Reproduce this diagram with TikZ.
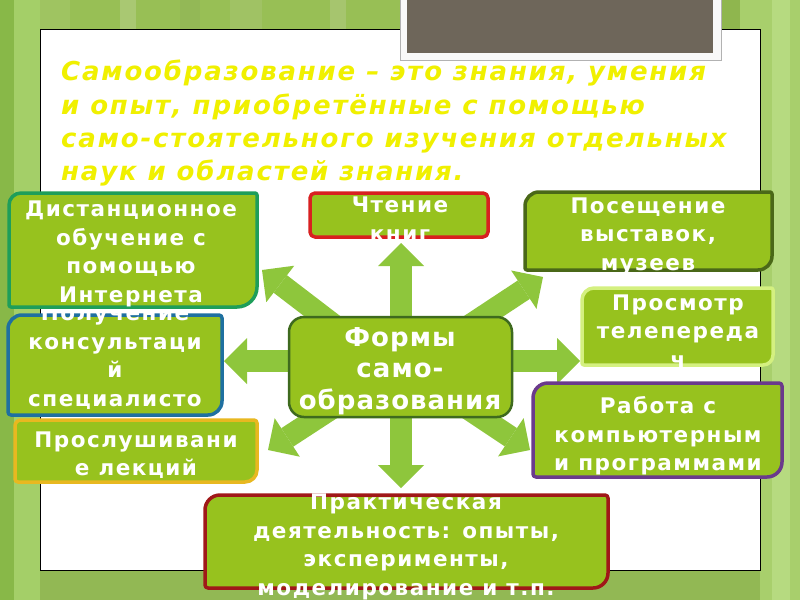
\documentclass[tikz,border=0pt]{standalone}
\usepackage{fontspec}
\setmainfont{DejaVu Sans}
\newfontfamily\titlefont{DejaVu Sans}[LetterSpace=7]
\newfontfamily\boxfont{DejaVu Sans}[LetterSpace=7]
\newfontfamily\centerfont{DejaVu Sans}[LetterSpace=4]
\usetikzlibrary{arrows.meta}
\definecolor{bgbase}{HTML}{98BF55}
\definecolor{boxgreen}{HTML}{97C21E}
\definecolor{arrowgreen}{HTML}{8EC63C}
\definecolor{titleyellow}{HTML}{F0F000}
\definecolor{greybox}{HTML}{6E665A}
\definecolor{cTeal}{HTML}{1E9E5A}
\definecolor{cBlue}{HTML}{1F70A0}
\definecolor{cGold}{HTML}{E8B820}
\definecolor{cRed}{HTML}{D82020}
\definecolor{cOlive}{HTML}{4A6818}
\definecolor{cLight}{HTML}{D4F080}
\definecolor{cPurple}{HTML}{6A3A8C}
\definecolor{cDarkRed}{HTML}{A01818}
\definecolor{cCenter}{HTML}{3E6A1E}
% #1 x1, #2 y1, #3 x2, #4 y2, #5 colour, #6 r top-left, #7 r bottom-right, #8 r other
\newcommand\rbox[8]{%
  \draw[boxshape, draw=#5] (#1,#2+#6) arc[start angle=180,end angle=270,radius=#6]
    -- (#3-#8,#2) arc[start angle=270,end angle=360,radius=#8]
    -- (#3,#4-#7) arc[start angle=0,end angle=90,radius=#7]
    -- (#1+#8,#4) arc[start angle=90,end angle=180,radius=#8] -- cycle;}
\begin{document}
\begin{tikzpicture}[x=1pt,y=-1pt,
  boxshape/.style={fill=boxgreen, line width=3.5pt, line join=round},
  boxtext/.style={text=white, font=\boxfont\bfseries\fontsize{21.5}{28.5}\selectfont, align=center, inner sep=0pt},
  bigarrow/.style={draw=arrowgreen, line width=22pt, line cap=butt,
     -{Triangle[length=23pt,width=46pt,line width=0pt]}}]
\useasboundingbox (0,0) rectangle (800,600);
% background
\fill[bgbase] (0,0) rectangle (800,600);
\fill[color={rgb,255:red,136;green,184;blue,72}] (0,0) rectangle (14,600);
\fill[color={rgb,255:red,164;green,207;blue,104}] (14,0) rectangle (40,600);
\fill[color={rgb,255:red,159;green,196;blue,97}] (40,0) rectangle (70,30);
\fill[color={rgb,255:red,169;green,200;blue,114}] (120,0) rectangle (136,30);
\fill[color={rgb,255:red,147;green,184;blue,86}] (180,0) rectangle (200,30);
\fill[color={rgb,255:red,160;green,194;blue,100}] (230,0) rectangle (262,30);
\fill[color={rgb,255:red,166;green,197;blue,110}] (330,0) rectangle (346,30);
\fill[color={rgb,255:red,143;green,182;blue,78}] (722,0) rectangle (740,600);
\fill[color={rgb,255:red,168;green,207;blue,108}] (740,0) rectangle (800,600);
\fill[color={rgb,255:red,182;green,218;blue,128}] (772,0) rectangle (790,600);
\fill[color={rgb,255:red,146;green,184;blue,84}] (40,570) rectangle (760,600);
% white panel
\draw[fill=white, draw=black, line width=0.8pt] (40,29) rectangle (760,570);
% grey picture frame
\draw[fill=white!95!gray, draw=gray!60, line width=0.6pt] (400,-2) rectangle (721,60);
\fill[greybox] (407,-2) rectangle (713,53);
% title
\node[anchor=north west, align=left, inner sep=0pt, text=titleyellow,
      font=\titlefont\bfseries\itshape\fontsize{26}{33.3}\selectfont] (title) at (61,60)
 {Самообразование – это знания, умения\\
  и опыт, приобретённые с помощью\\
  само-стоятельного изучения отдельных\\
  наук и областей знания.};
% arrows
\coordinate (sUL) at (360,345);
\coordinate (sUR) at (440,345);
\coordinate (sDL) at (360,390);
\coordinate (sDR) at (440,390);
\coordinate (sV) at (401,366);
\coordinate (sH) at (401,361);
\coordinate (eUp) at (401,243);
\coordinate (eDown) at (401,488);
\coordinate (eLeft) at (224,361);
\coordinate (eRight) at (580,361);
\coordinate (eUL) at (262,270);
\coordinate (eUR) at (543,277);
\coordinate (eDL) at (268,450);
\coordinate (eDR) at (530,450);
\draw[bigarrow] (sUL) -- (eUL);
\draw[bigarrow] (sUR) -- (eUR);
\draw[bigarrow] (sDL) -- (eDL);
\draw[bigarrow] (sDR) -- (eDR);
\draw[bigarrow] (sV) -- (eUp);
\draw[bigarrow] (sV) -- (eDown);
\draw[bigarrow] (sH) -- (eLeft);
\draw[bigarrow] (sH) -- (eRight);
% centre
\draw[fill=boxgreen, draw=cCenter, line width=2.5pt, rounded corners=15pt] (289,317) rectangle (512,417);
\node[boxtext, font=\centerfont\bfseries\fontsize{26}{31.5}\selectfont] (t0) at (400,371) {Формы\\само-\\образования};
% box 6 (under boxes 1 and 7)
\rbox{8}{315}{222}{415}{cBlue}{14}{14}{3}
\node[boxtext] (t6) at (115,370) {Получение\\консультаци\\й\\специалисто\\в};
% box 1
\rbox{9}{193}{257}{307}{cTeal}{12}{20}{2}
\node[boxtext] (t1) at (131,254) {Дистанционное\\обучение с\\помощью\\Интернета};
% box 7
\rbox{15}{420}{257}{482}{cGold}{6}{12}{3}
\node[boxtext] (t7) at (136,455) {Прослушивани\\е лекций};
% box 2
\rbox{310}{193}{488}{237}{cRed}{5}{5}{5}
\node[boxtext] (t2) at (400,219) {Чтение\\книг};
% box 3
\rbox{525}{192}{772}{270}{cOlive}{14}{14}{2}
\node[boxtext] (t3) at (648,236) {Посещение\\выставок,\\музеев};
% box 4
\rbox{582}{288}{773}{365}{cLight}{12}{10}{2}
\node[boxtext] (t4) at (678,331) {Просмотр\\телепереда\\ч};
% box 5
\rbox{533}{383}{782}{477}{cPurple}{15}{15}{3}
\node[boxtext] (t5) at (658,436) {Работа с\\компьютерным\\и программами};
% box 8
\rbox{205}{495}{608}{588}{cDarkRed}{15}{15}{3}
\node[boxtext] (t8) at (406,547) {Практическая\\деятельность: опыты,\\эксперименты,\\моделирование и т.п.};
\end{tikzpicture}
\end{document}
